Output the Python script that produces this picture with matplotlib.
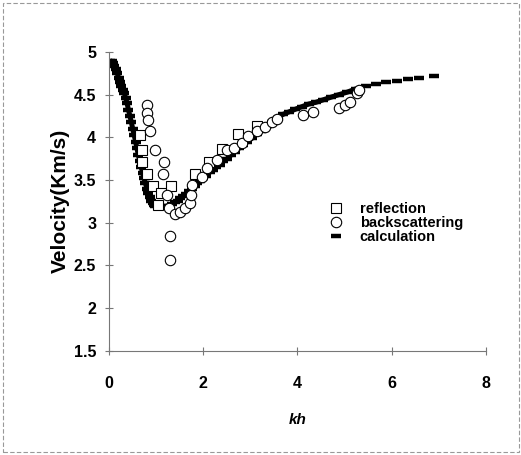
import matplotlib
matplotlib.use('Agg')
import matplotlib.pyplot as plt
from matplotlib.patches import Rectangle

plt.rcParams['font.family'] = ['Liberation Sans', 'DejaVu Sans']

# reflection data (squares)
refl_kh = [0.67, 0.71, 0.71, 0.81, 0.95, 1.10, 1.32, 1.05,
           1.82, 2.13, 2.40, 2.75, 3.15]
refl_v = [4.03, 3.85, 3.71, 3.57, 3.43, 3.35, 3.43, 3.21,
          3.57, 3.71, 3.86, 4.04, 4.13]

# backscattering data (circles)
back_kh = [0.81, 0.81, 0.83, 0.88, 0.98, 1.18, 1.16, 1.23, 1.27, 1.41,
           1.51, 1.62, 1.73, 1.75, 1.76, 1.29, 1.30, 1.97, 2.08, 2.29,
           2.51, 2.65, 2.82, 2.96, 3.14, 3.32, 3.46, 3.57, 4.13, 4.34,
           4.88, 5.02, 5.12, 5.27, 5.30]
back_v = [4.38, 4.29, 4.20, 4.07, 3.85, 3.71, 3.57, 3.32, 3.17, 3.10,
          3.13, 3.17, 3.23, 3.32, 3.44, 2.84, 2.56, 3.54, 3.64, 3.73,
          3.85, 3.88, 3.93, 4.01, 4.07, 4.12, 4.18, 4.22, 4.26, 4.30,
          4.34, 4.38, 4.42, 4.52, 4.55]

# calculation (dash markers)
calc_kh = [0.03, 0.06, 0.09, 0.12, 0.15, 0.18, 0.21, 0.24, 0.27, 0.30,
           0.33, 0.36, 0.39, 0.42, 0.45, 0.48, 0.51, 0.54, 0.57, 0.60,
           0.63, 0.66, 0.69, 0.72, 0.75, 0.78, 0.81, 0.84, 0.87, 0.90,
           0.93, 0.96, 0.99, 1.04, 1.10, 1.16, 1.22, 1.28, 1.34, 1.40,
           1.46, 1.52, 1.58, 1.64, 1.70, 1.76, 1.82, 1.88, 1.94, 2.00,
           2.07, 2.14, 2.21, 2.28, 2.35, 2.43, 2.51, 2.59, 2.67, 2.76,
           2.85, 2.94, 3.04, 3.14, 3.24, 3.35, 3.46, 3.58, 3.70, 3.83,
           3.96, 4.10, 4.24, 4.39, 4.55, 4.71, 4.88, 5.06, 5.25, 5.46,
           5.66, 5.88, 6.11, 6.34, 6.58, 6.89]
calc_v = [4.90, 4.89, 4.87, 4.84, 4.80, 4.75, 4.70, 4.65, 4.60, 4.56,
          4.52, 4.46, 4.40, 4.32, 4.25, 4.18, 4.10, 4.03, 3.95, 3.87,
          3.79, 3.72, 3.65, 3.58, 3.52, 3.46, 3.40, 3.35, 3.30, 3.26,
          3.23, 3.21, 3.20, 3.19, 3.18, 3.18, 3.19, 3.20, 3.22, 3.24,
          3.26, 3.29, 3.31, 3.34, 3.37, 3.40, 3.43, 3.46, 3.49, 3.52,
          3.55, 3.59, 3.62, 3.65, 3.68, 3.72, 3.75, 3.79, 3.83, 3.87,
          3.91, 3.95, 3.99, 4.04, 4.08, 4.13, 4.18, 4.23, 4.27, 4.30,
          4.33, 4.36, 4.39, 4.41, 4.44, 4.47, 4.50, 4.53, 4.57, 4.60,
          4.63, 4.645, 4.66, 4.68, 4.70, 4.72]

x_ticks = [0, 2, 4, 6, 8]
y_ticks = [1.5, 2, 2.5, 3, 3.5, 4, 4.5, 5]
y_ticklabels = ['1.5', '2', '2.5', '3', '3.5', '4', '4.5', '5']

fig = plt.figure(figsize=(5.21, 4.55), dpi=100)
ax = fig.add_axes([0.2086, 0.2292, 0.7242, 0.6565])

# dense part of the calculated curve looks like a solid band
n_dense = calc_kh.index(5.25) + 1
ax.plot(calc_kh[:n_dense], calc_v[:n_dense], color='black', linewidth=3.6,
        solid_capstyle='butt', zorder=2)
ax.plot(calc_kh, calc_v, linestyle='none', marker='_', markersize=6.5,
        markeredgewidth=3.2, color='black', label='calculation', zorder=2)
ax.plot(refl_kh, refl_v, linestyle='none', marker='s', markersize=7.5,
        markerfacecolor='white', markeredgecolor='black',
        markeredgewidth=0.8, label='reflection', zorder=3)
ax.plot(back_kh, back_v, linestyle='none', marker='o', markersize=7.5,
        markerfacecolor='white', markeredgecolor='black',
        markeredgewidth=0.8, label='backscattering', zorder=4)

ax.set_xlim(0, 8)
ax.set_ylim(1.5, 5)
ax.set_xticks(x_ticks)
ax.set_yticks(y_ticks)
ax.set_yticklabels(y_ticklabels)

for s in ['top', 'right']:
    ax.spines[s].set_visible(False)
for s in ['left', 'bottom']:
    ax.spines[s].set_color('#777777')
    ax.spines[s].set_linewidth(0.8)

ax.tick_params(axis='both', direction='inout', length=6, width=0.8,
               color='#777777', labelsize=11.5)
ax.tick_params(axis='x', pad=15)
ax.tick_params(axis='y', pad=6)
for lab in ax.get_xticklabels() + ax.get_yticklabels():
    lab.set_fontweight('bold')

ax.set_ylabel('Velocity(Km/s)', fontsize=15, fontweight='bold', labelpad=3)
ax.set_xlabel('kh', fontsize=11, fontweight='bold', style='italic',
              labelpad=16)

handles, labels = ax.get_legend_handles_labels()
order = [1, 2, 0]
ax.legend([handles[i] for i in order], [labels[i] for i in order],
          loc='upper left', bbox_to_anchor=(0.584, 0.498), frameon=False,
          handlelength=1.0, handletextpad=1.1, labelspacing=0.0,
          borderaxespad=0, borderpad=0, numpoints=1,
          prop={'weight': 'bold', 'size': 10.5})

# dashed frame around the whole picture
frame = Rectangle((0.006, 0.006), 0.991, 0.987, transform=fig.transFigure,
                  fill=False, edgecolor='#999999', linewidth=0.8,
                  linestyle=(0, (4, 2)))
fig.patches.append(frame)

fig.savefig('out.png', dpi=100)
